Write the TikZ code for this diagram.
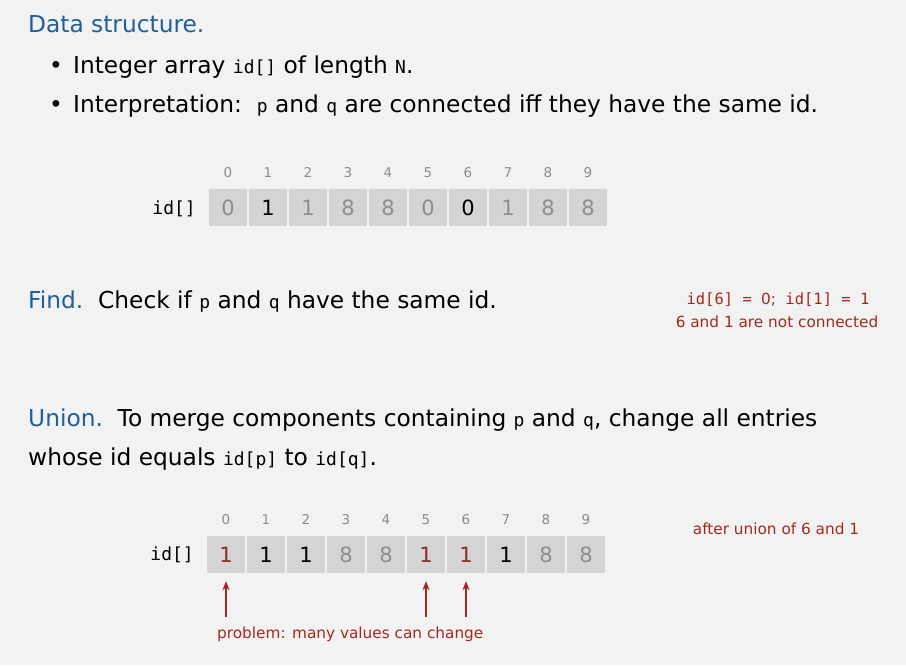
\documentclass[tikz,border=0pt]{standalone}
\usepackage{fontspec}
\setmainfont{DejaVu Sans}
\setmonofont{DejaVu Sans Mono}
\usetikzlibrary{arrows.meta}

\definecolor{bgcol}{HTML}{F2F2F2}
\definecolor{headblue}{HTML}{1F5F9E}
\definecolor{notered}{HTML}{A3291F}
\definecolor{cellfill}{HTML}{D4D4D4}
\definecolor{idxgray}{HTML}{8C8C8C}
\definecolor{valgray}{HTML}{8E8E8E}
\definecolor{valred}{HTML}{8E2A2A}

\tikzset{
  body/.style={anchor=base west, inner sep=0pt, font=\fontsize{23.3}{27}\selectfont},
  head/.style={body, text=headblue},
  note/.style={inner sep=0pt, anchor=base, text=notered, font=\fontsize{15.3}{18}\selectfont},
  cell/.style={minimum width=38pt, minimum height=37pt, inner sep=0pt, fill=cellfill,
               font=\fontsize{21}{25}\selectfont},
  idx/.style={inner sep=0pt, anchor=base, text=idxgray, font=\fontsize{13.5}{16}\selectfont},
  arrlabel/.style={inner sep=0pt, anchor=base east, font=\ttfamily\fontsize{18}{21}\selectfont},
  uparrow/.style={draw=notered, line width=1.3pt, -{Stealth[length=9pt,width=7pt]}}
}
\newcommand{\cw}[1]{{\ttfamily\fontsize{18}{21}\selectfont #1}}
\newcommand{\hd}[1]{\textcolor{headblue}{#1}}

\begin{document}
\begin{tikzpicture}[x=1pt,y=-1pt]
  \fill[bgcol] (0,0) rectangle (906,665);
  \useasboundingbox (0,0) rectangle (906,665);

  % data structure description
  \node[head] (hds) at (28,32) {Data structure.};
  \node[body, anchor=base] (b1) at (56,73) {\textbullet};
  \node[body] (l1) at (73,73) {Integer array \cw{id[]} of length \cw{N}.};
  \node[body, anchor=base] (b2) at (56,112) {\textbullet};
  \node[body] (l2) at (73,112) {Interpretation:\ \ \cw{p} and \cw{q} are connected iff they have the same id.};

  % first array
  \node[arrlabel] (lab1) at (196,214) {id[]};
  \foreach \i/\v/\c in {0/0/valgray,1/1/black,2/1/valgray,3/8/valgray,4/8/valgray,
                        5/0/valgray,6/0/black,7/1/valgray,8/8/valgray,9/8/valgray} {
    \node[cell, text=\c] (a\i) at ({228+40*\i},207.5) {\v};
    \node[idx] (ai\i) at ({228+40*\i},177) {\i};
  }

  % find
  \node[body] (tf) at (28,308) {\hd{Find.}\ \ Check if \cw{p} and \cw{q} have the same id.};
  \node[note] (n1) at (778,304) {\ttfamily\fontsize{15.5}{18}\selectfont id[6] = {\rmfamily\fontsize{15.3}{18}\selectfont 0;} id[1] = 1};
  \node[note] (n2) at (777,327) {6 and 1 are not connected};

  % union
  \node[body] (tu1) at (28,426) {\hd{Union.}\ \ To merge components containing \cw{p} and \cw{q}, change all entries};
  \node[body] (tu2) at (28,465) {whose id equals \cw{id[p]} to \cw{id[q]}.};

  % second array
  \node[arrlabel] (lab2) at (194,560) {id[]};
  \foreach \i/\v/\c in {0/1/valred,1/1/black,2/1/black,3/8/valgray,4/8/valgray,
                        5/1/valred,6/1/valred,7/1/black,8/8/valgray,9/8/valgray} {
    \node[cell, text=\c] (b\i) at ({226+40*\i},554.5) {\v};
    \node[idx] (bi\i) at ({226+40*\i},524) {\i};
  }
  \node[note] (n3) at (776,534) {after union of 6 and 1};

  % changed entries
  \coordinate (t0) at (226,617);
  \coordinate (t5) at (426,617);
  \coordinate (t6) at (466,617);
  \draw[uparrow, shorten >=8pt] (t0) -- (b0.south);
  \draw[uparrow, shorten >=8pt] (t5) -- (b5.south);
  \draw[uparrow, shorten >=8pt] (t6) -- (b6.south);
  \node[note, anchor=base west] (n4) at (217,638) {problem: many values can change};
\end{tikzpicture}
\end{document}
